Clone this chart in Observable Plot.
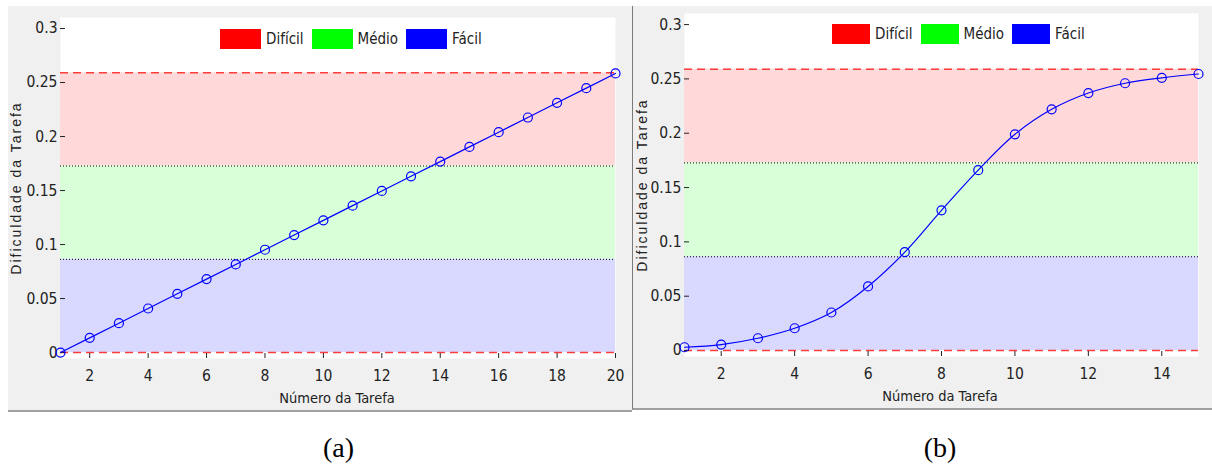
<!DOCTYPE html>
<html>
<head>
<meta charset="utf-8">
<script src="https://cdn.jsdelivr.net/npm/d3@7"></script>
<script src="https://cdn.jsdelivr.net/npm/@observablehq/plot@0.6"></script>
<style>
  html, body { margin: 0; padding: 0; background: #ffffff; }
  #root { position: relative; width: 1212px; height: 468px; overflow: hidden; background: #fff; }
  .panel { position: absolute; background: #f0f0f0; }
  .plot { position: absolute; top: 0; }
  .ylab { position: absolute; transform: translate(-50%, -50%) rotate(-90deg); white-space: nowrap;
          font-family: "Liberation Sans", Arial, sans-serif; font-size: 14px; letter-spacing: 2px; color: #222; }
  .xlab { position: absolute; transform: translate(-50%, -50%); white-space: nowrap;
          font-family: "Liberation Sans Narrow", "DejaVu Sans Condensed", Arial, sans-serif; font-size: 14.5px; color: #222; }
  .legend { position: absolute; display: flex; align-items: center;
            font-family: "Liberation Sans Narrow", "DejaVu Sans Condensed", Arial, sans-serif; font-size: 15px; color: #222; }
  .legend .sw { width: 40px; height: 20px; margin-right: 5px; }
  .legend .lt { margin-right: 8px; }
  .cap { position: absolute; transform: translateX(-50%); font-family: "Liberation Serif", "Times New Roman", serif;
         font-size: 28px; color: #000; }
</style>
</head>
<body>
<div id="root"></div>
<script>
// ---- data ----
const tasksA = [1,2,3,4,5,6,7,8,9,10,11,12,13,14,15,16,17,18,19,20];
const difficultyA = [0.0, 0.0136, 0.0272, 0.0408, 0.0544, 0.068, 0.0816, 0.0952, 0.1088, 0.1224,
                     0.136, 0.1496, 0.1632, 0.1768, 0.1904, 0.204, 0.2176, 0.2312, 0.2448, 0.2584];
const tasksB = [1,2,3,4,5,6,7,8,9,10,11,12,13,14,15];
const difficultyB = [0.003, 0.0055, 0.0113, 0.0205, 0.035, 0.059, 0.0905, 0.129, 0.166, 0.199,
                     0.222, 0.237, 0.246, 0.251, 0.2545];
const xTicksA = [2,4,6,8,10,12,14,16,18,20];
const xTicksB = [2,4,6,8,10,12,14];
const yTicks = [0, 0.05, 0.1, 0.15, 0.2, 0.25, 0.3];
const yTickLabels = ["0", "0.05", "0.1", "0.15", "0.2", "0.25", "0.3"];
const levelNames = ["Difícil", "Médio", "Fácil"];
const levelColors = ["#ff0000", "#00ff00", "#0000ff"];
const bandFills = ["#ffd9d9", "#d9ffd9", "#d9d9ff"];
const levelEdges = [0, 0.0863, 0.1727, 0.259];   // fácil | médio | difícil limits
const xLabel = "Número da Tarefa";
const yLabel = "Dificuldade da Tarefa";
const captions = ["(a)", "(b)"];

// ---- build ----
const root = document.getElementById("root");
const font = '"Liberation Sans Narrow", "DejaVu Sans Condensed", Arial, sans-serif';

function el(tag, cls, style, text) {
  const e = document.createElement(tag);
  if (cls) e.className = cls;
  Object.assign(e.style, style);
  if (text != null) e.textContent = text;
  root.appendChild(e);
  return e;
}

// panel backgrounds
el("div", "panel", {left: "8px", top: "6px", width: "624px", height: "404px", borderBottom: "2px solid #a0a0a0"});
el("div", "panel", {left: "632px", top: "6px", width: "580px", height: "402px", borderLeft: "1px solid #7a7a7a", borderBottom: "2px solid #a0a0a0"});

// bands: from the level edges (top = difícil)
const bands = levelNames.map((name, i) => ({
  name,
  lo: levelEdges[levelEdges.length - 2 - i],
  hi: levelEdges[levelEdges.length - 1 - i],
  fill: bandFills[i]
}));

function panel(cfg) {
  const data = cfg.tasks.map((t, i) => ({t, d: cfg.values[i]}));
  const chart = Plot.plot({
    width: cfg.width, height: 420,
    marginLeft: cfg.ml, marginRight: cfg.mr, marginTop: cfg.mt, marginBottom: cfg.mb,
    style: {fontFamily: font, fontSize: "15.5px", color: "#222", background: "transparent", overflow: "visible"},
    x: {domain: cfg.xDomain},
    y: {domain: [-0.0055, 0.3102]},
    color: {type: "identity"},
    marks: [
      Plot.frame({fill: "white"}),
      Plot.rect(bands, {y1: "lo", y2: "hi", fill: "fill"}),
      Plot.ruleY([levelEdges[1], levelEdges[2]], {stroke: "#000", strokeWidth: 1, strokeDasharray: "1,2"}),
      Plot.ruleY([levelEdges[0], levelEdges[3]], {stroke: "#ff3c3c", strokeWidth: 1.5, strokeDasharray: "8,5"}),
      Plot.axisX(cfg.xTicks, {label: null, tickSize: -5, tickPadding: 16, tickFormat: d => String(d), stroke: "#222"}),
      Plot.axisY(yTicks, {label: null, tickSize: -5, tickPadding: 8, tickFormat: d => yTickLabels[yTicks.indexOf(d)], stroke: "#222"}),
      Plot.line(data, {x: "t", y: "d", stroke: "#0000ff", strokeWidth: 1.2, curve: cfg.curve}),
      Plot.dot(data, {x: "t", y: "d", r: 4.5, stroke: "#0000ff", strokeWidth: 1.2, fill: "none"})
    ]
  });
  chart.classList.add("plot");
  chart.style.left = cfg.left + "px";
  root.appendChild(chart);

  // axis labels
  el("div", "ylab", {left: cfg.yLabX + "px", top: cfg.yLabY + "px"}, yLabel);
  el("div", "xlab", {left: cfg.xLabX + "px", top: cfg.xLabY + "px"}, xLabel);

  // legend
  const lg = el("div", "legend", {left: cfg.legX + "px", top: cfg.legY + "px"});
  levelNames.forEach((n, i) => {
    const sw = document.createElement("div");
    sw.className = "sw"; sw.style.background = levelColors[i];
    if (cfg.swW) sw.style.width = cfg.swW + "px";
    const tx = document.createElement("div");
    tx.className = "lt"; tx.textContent = n;
    lg.appendChild(sw); lg.appendChild(tx);
  });

  // caption
  el("div", "cap", {left: cfg.capX + "px", top: "432px"}, cfg.caption);
}

panel({tasks: tasksA, values: difficultyA, xTicks: xTicksA, xDomain: [1, 20],
       width: 632, left: 0, ml: 60, mr: 17, mt: 17, mb: 62, curve: "linear",
       yLabX: 16, yLabY: 187.5, xLabX: 337, xLabY: 398,
       legX: 220, legY: 29, swW: 41, capX: 338.5, caption: captions[0]});

panel({tasks: tasksB, values: difficultyB, xTicks: xTicksB, xDomain: [1, 15],
       width: 580, left: 632, ml: 52, mr: 14, mt: 13, mb: 64, curve: "catmull-rom",
       yLabX: 642, yLabY: 184.5, xLabX: 940, xLabY: 396,
       legX: 832, legY: 24, swW: 38, capX: 940, caption: captions[1]});
</script>
</body>
</html>
